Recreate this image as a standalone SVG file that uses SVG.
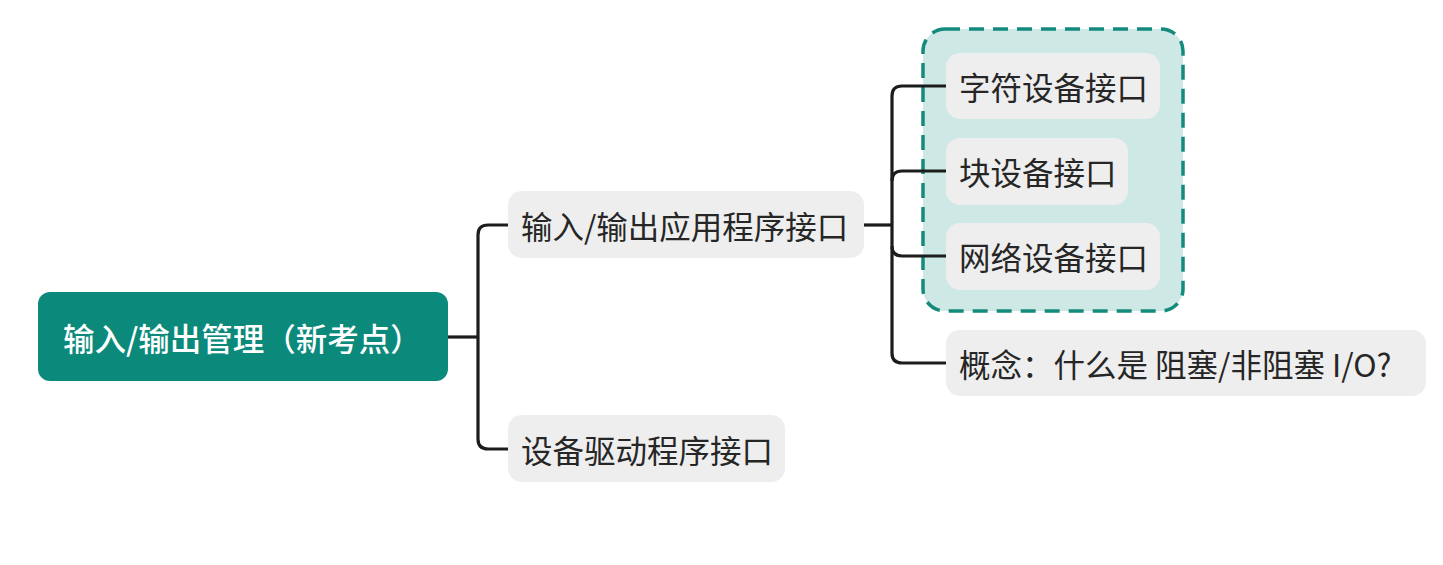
<svg xmlns="http://www.w3.org/2000/svg" width="1443" height="565" viewBox="0 0 1443 565">
<style>
.t{font-family:"Noto Sans CJK SC","Noto Sans",sans-serif;font-size:31.5px;fill:#262626;dominant-baseline:central}
.rt{font-family:"Noto Sans CJK SC","Noto Sans",sans-serif;font-size:31.5px;fill:#ffffff;font-weight:500;dominant-baseline:central}
.box{fill:#eeeeee}
.c{fill:none;stroke:#1c1c1c;stroke-width:3.2}
</style>
<rect width="1443" height="565" fill="#ffffff"/>
<g id="group-box">
<rect x="923" y="29" width="260" height="282" rx="22" fill="#cde8e5" stroke="#138a7b" stroke-width="3.5" stroke-dasharray="15,9"/>
</g>
<g id="connectors">
<path class="c" d="M448,337 H478"/>
<path class="c" d="M508,225 H488 Q478,225 478,235 V439 Q478,449 488,449 H508"/>
<path class="c" d="M864,225 H892"/>
<path class="c" d="M946,86 H902 Q892,86 892,96 V353 Q892,363 902,363 H946"/>
<path class="c" d="M946,171 H902 Q892,171 892,181"/>
<path class="c" d="M946,256 H902 Q892,256 892,246"/>
</g>
<g id="root">
<rect x="38" y="292" width="410" height="89" rx="12" fill="#0b8a7b"/>
<text class="rt" x="63" y="337">输入/输出管理（新考点）</text>
</g>
<g id="api">
<rect class="box" x="508" y="191" width="356" height="67" rx="14"/>
<text class="t" x="521" y="225">输入/输出应用程序接口</text>
</g>
<g id="driver">
<rect class="box" x="508" y="415" width="277" height="67" rx="14"/>
<text class="t" x="521" y="449">设备驱动程序接口</text>
</g>
<g id="char">
<rect class="box" x="946" y="53" width="214" height="66" rx="14"/>
<text class="t" x="959" y="86">字符设备接口</text>
</g>
<g id="block">
<rect class="box" x="946" y="138" width="182" height="67" rx="14"/>
<text class="t" x="959" y="171">块设备接口</text>
</g>
<g id="net">
<rect class="box" x="946" y="223" width="214" height="67" rx="14"/>
<text class="t" x="959" y="256">网络设备接口</text>
</g>
<g id="concept">
<rect class="box" x="946" y="330" width="480" height="66" rx="14"/>
<text class="t" x="959" y="363">概念：什么是 阻塞/非阻塞 I/O?</text>
</g>
</svg>
